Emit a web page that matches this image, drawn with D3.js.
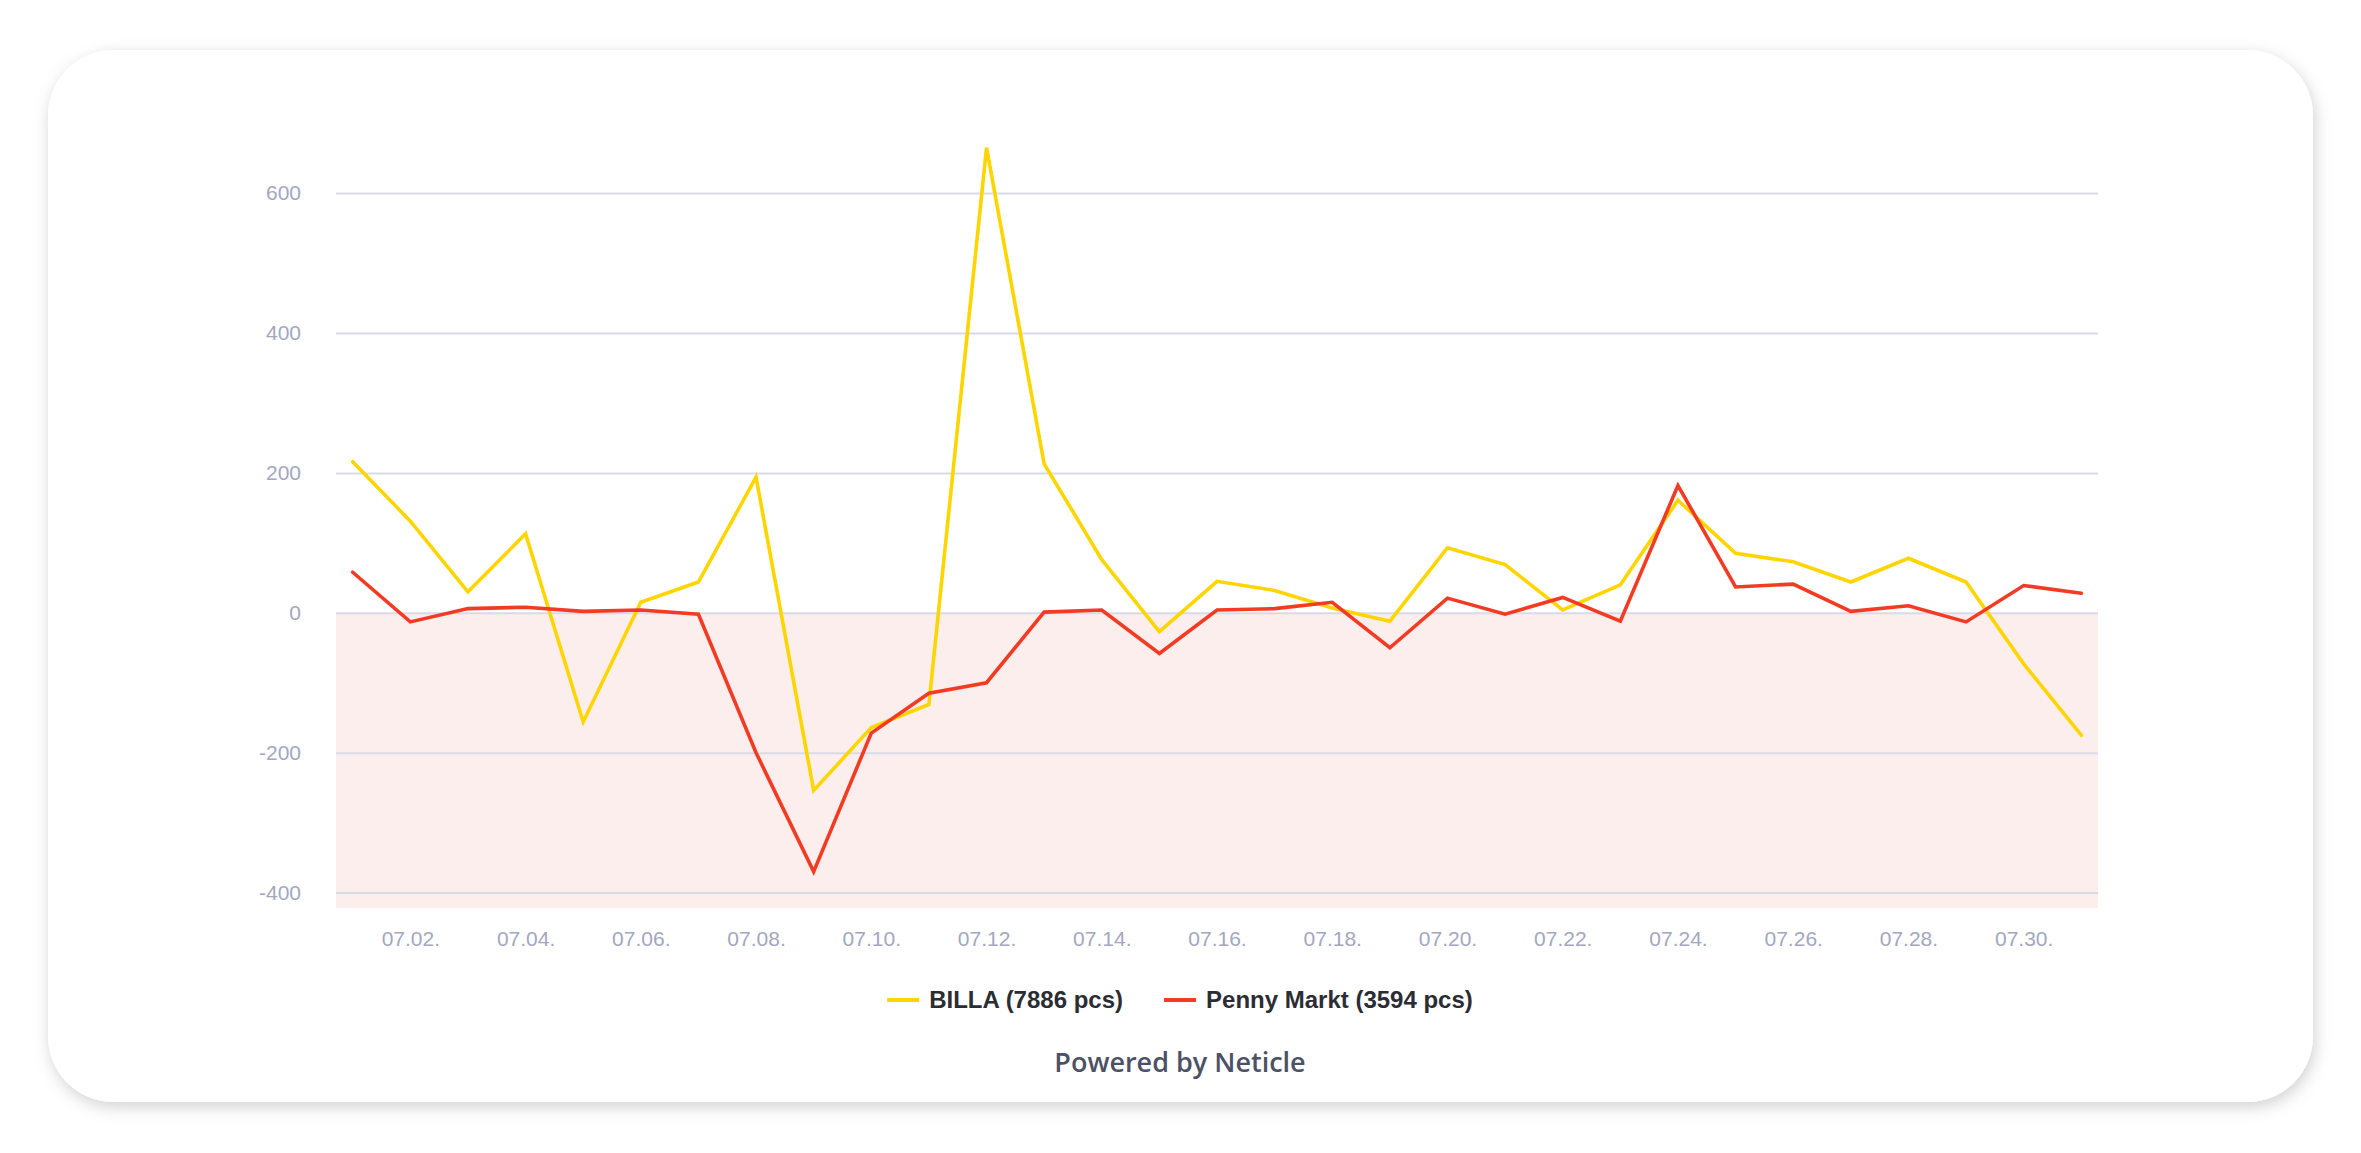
<!DOCTYPE html>
<html>
<head>
<meta charset="utf-8">
<script src="https://cdn.jsdelivr.net/npm/d3@7"></script>
<style>
  body { margin: 0; background: #fff; }
  #canvas svg { display: block; }
</style>
</head>
<body>
<div id="canvas"></div>
<script>
// DATA
const dates = ["07.01.", "07.02.", "07.03.", "07.04.", "07.05.", "07.06.", "07.07.", "07.08.",
  "07.09.", "07.10.", "07.11.", "07.12.", "07.13.", "07.14.", "07.15.", "07.16.", "07.17.",
  "07.18.", "07.19.", "07.20.", "07.21.", "07.22.", "07.23.", "07.24.", "07.25.", "07.26.",
  "07.27.", "07.28.", "07.29.", "07.30.", "07.31."];

const billa = [216, 131, 30, 113, -156, 15, 44, 194, -254, -164, -131, 665, 213, 76, -27, 45,
  32, 7, -12, 93, 69, 4, 40, 161, 85, 73, 44, 78, 44, -73, -175];

const penny = [58, -13, 6, 8, 2, 4, -2, -200, -370, -172, -115, -100, 1, 4, -58, 4,
  6, 15, -50, 21, -2, 22, -12, 182, 37, 41, 2, 10, -13, 39, 28];

const seriesNames = ["BILLA (7886 pcs)", "Penny Markt (3594 pcs)"];
const seriesColors = ["#ffd500", "#f23b22"];

const yTicks = [-400, -200, 0, 200, 400, 600];
const xTicks = ["07.02.", "07.04.", "07.06.", "07.08.", "07.10.", "07.12.", "07.14.", "07.16.",
  "07.18.", "07.20.", "07.22.", "07.24.", "07.26.", "07.28.", "07.30."];

function drawGraph() {

  // DIMENSIONS
  const width = 2361;
  const height = 1153;

  const card = { x: 48, y: 50, w: 2265, h: 1052, r: 66 };
  const plot_left = 336, plot_right = 2098;
  const plot_bottom = 908;

  // CANVAS
  const canvas = d3.select('#canvas')
    .append('svg')
    .attr('width', width)
    .attr('height', height);

  const defs = canvas.append('defs');
  const shadow = defs.append('filter')
    .attr('id', 'shadow')
    .attr('x', '-5%').attr('y', '-10%')
    .attr('width', '110%').attr('height', '120%');
  shadow.append('feDropShadow')
    .attr('dx', 2).attr('dy', 5)
    .attr('stdDeviation', 8)
    .attr('flood-color', '#000')
    .attr('flood-opacity', 0.18);

  canvas.append('rect')
    .attr('x', card.x).attr('y', card.y)
    .attr('width', card.w).attr('height', card.h)
    .attr('rx', card.r).attr('ry', card.r)
    .style('fill', '#fff')
    .attr('filter', 'url(#shadow)');

  // SCALES
  let scaleX = d3.scalePoint(dates, [plot_left, plot_right]).padding(0.29);

  let scaleY = d3.scaleLinear()
    .domain([-422, 700])
    .range([plot_bottom, plot_bottom - 1122 * 0.6995]);

  // NEGATIVE AREA
  canvas.append('rect')
    .attr('x', plot_left)
    .attr('y', scaleY(0))
    .attr('width', plot_right - plot_left)
    .attr('height', scaleY(-422) - scaleY(0))
    .style('fill', '#fdeeee');

  // AXES
  let yAx = d3.axisLeft(scaleY)
    .tickValues(yTicks)
    .tickSize(-(plot_right - plot_left))
    .tickPadding(35)
    .tickFormat(d => d);

  let yaxis = canvas.append('g')
    .attr('transform', `translate(${plot_left}, 0)`)
    .call(yAx);

  yaxis.select('.domain').remove();
  yaxis.selectAll('line')
    .style('stroke', '#d8dbe7')
    .style('stroke-width', 2);
  yaxis.selectAll('text')
    .style('font-family', '"Liberation Sans", Arial, sans-serif')
    .style('font-size', '21px')
    .style('fill', '#a2a7c1');

  let xAx = d3.axisBottom(scaleX)
    .tickValues(xTicks)
    .tickSize(0)
    .tickPadding(23);

  let xaxis = canvas.append('g')
    .attr('transform', `translate(0, ${plot_bottom})`)
    .call(xAx);

  xaxis.select('.domain').remove();
  xaxis.selectAll('text')
    .style('font-family', '"Liberation Sans", Arial, sans-serif')
    .style('font-size', '21px')
    .style('fill', '#a2a7c1');

  // LINES
  const line = d3.line()
    .x((d, i) => scaleX(dates[i]))
    .y(d => scaleY(d));

  [billa, penny].forEach((s, k) => {
    canvas.append('path')
      .datum(s)
      .attr('d', line)
      .style('fill', 'none')
      .style('stroke', seriesColors[k])
      .style('stroke-width', 3.6)
      .style('stroke-linejoin', 'miter')
      .style('stroke-linecap', 'round');
  });

  // LEGEND
  const legend = canvas.append('g');
  const items = legend.selectAll('g').data(seriesNames).enter()
    .append('g');

  items.append('line')
    .attr('x1', 0).attr('x2', 32)
    .attr('y1', 0).attr('y2', 0)
    .style('stroke', (d, i) => seriesColors[i])
    .style('stroke-width', 4);

  items.append('text')
    .attr('x', 42)
    .attr('y', 8)
    .style('font-family', '"Liberation Sans", Arial, sans-serif')
    .style('font-size', '24px')
    .style('font-weight', 'bold')
    .style('fill', '#2b2d33')
    .text(d => d);

  let offset = 0;
  const widths = [];
  items.each(function () {
    const w = 42 + d3.select(this).select('text').node().getComputedTextLength();
    widths.push(w);
  });
  const total = d3.sum(widths) + 41 * (widths.length - 1);
  items.attr('transform', (d, i) => {
    const x = 1180 - total / 2 + offset;
    offset += widths[i] + 41;
    return `translate(${x}, 1000)`;
  });

  // CREDIT
  canvas.append('text')
    .attr('x', 1180)
    .attr('y', 1072)
    .style('text-anchor', 'middle')
    .style('font-family', '"Open Sans", Lato, sans-serif')
    .style('font-size', '27px')
    .style('font-weight', 600)
    .style('fill', '#4c5166')
    .text('Powered by Neticle');
}

drawGraph();
</script>
</body>
</html>
